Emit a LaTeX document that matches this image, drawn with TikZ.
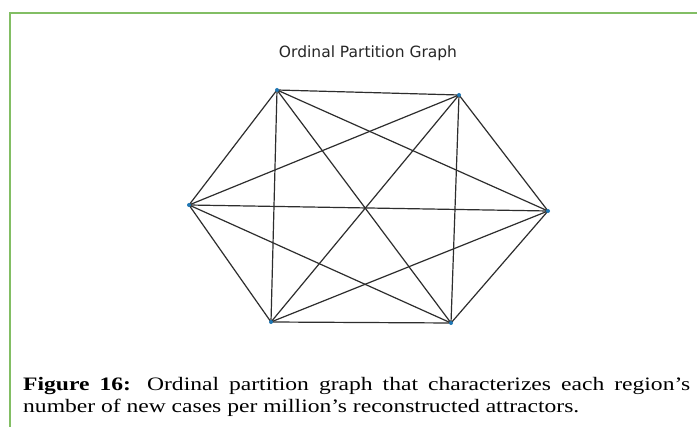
\documentclass[tikz,border=0pt]{standalone}
\usepackage{fontspec}
\setmainfont{Liberation Serif}
\newfontfamily\captionfont[FakeStretch=1.24]{Liberation Serif}
\newfontfamily\titlefont{DejaVu Sans}
\definecolor{framegreen}{RGB}{130,190,100}
\definecolor{nodeblue}{RGB}{31,119,180}
\definecolor{edgegray}{RGB}{45,45,45}
\begin{document}
\begin{tikzpicture}[x=1pt,y=-1pt,
  vtx/.style={circle,fill=nodeblue,inner sep=0pt,minimum size=4pt},
  edge/.style={draw=edgegray,line width=1.2pt},
  frameline/.style={draw=framegreen,line width=1.2pt}]
\useasboundingbox (0,0) rectangle (697,427);
\fill[white] (0,0) rectangle (697,427);
\coordinate (f1) at (10,13);
\coordinate (f2) at (697,13);
\coordinate (f3) at (10,427);
\draw[frameline] (f3) -- (f1) -- (f2);
\node[font=\titlefont\fontsize{15.5}{18}\selectfont,text=black!85] (title) at (368,53) {Ordinal Partition Graph};
\coordinate (A) at (277,90);
\coordinate (B) at (459,95);
\coordinate (C) at (189,205);
\coordinate (D) at (548,211);
\coordinate (E) at (271,322);
\coordinate (F) at (451,323);
\foreach \u/\v in {A/B,A/C,A/D,A/E,A/F,B/C,B/D,B/E,B/F,C/D,C/E,C/F,D/E,D/F,E/F}
  \draw[edge] (\u) -- (\v);
\foreach \n in {A,B,C,D,E,F}
  \node[vtx] (n\n) at (\n) {};
\node[anchor=base west,inner sep=0pt,text width=667pt,align=justify,
  font=\captionfont\fontsize{19}{22}\selectfont] (caption) at (23,391)
  {\textbf{Figure 16:} Ordinal partition graph that characterizes each region’s\linebreak
   number of new cases per million’s reconstructed attractors.};
\end{tikzpicture}
\end{document}
